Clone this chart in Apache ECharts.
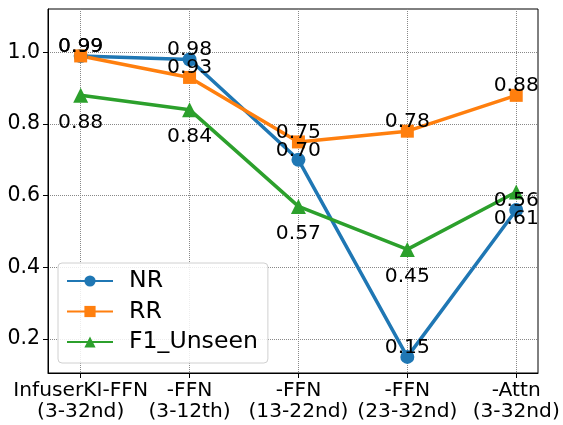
<!DOCTYPE html>
<html>
<head>
<meta charset="utf-8">
<script src="https://cdn.jsdelivr.net/npm/echarts@6/dist/echarts.min.js"></script>
<style>html,body{margin:0;padding:0;background:#fff;}#c{width:563px;height:425px;}</style>
</head>
<body>
<div id="c"></div>
<script>
const categories = ['InfuserKI-FFN\n(3-32nd)', '-FFN\n(3-12th)', '-FFN\n(13-22nd)', '-FFN\n(23-32nd)', '-Attn\n(3-32nd)'];
const nrValues = [0.99, 0.98, 0.70, 0.15, 0.56];
const rrValues = [0.99, 0.93, 0.75, 0.78, 0.88];
const f1Values = [0.88, 0.84, 0.57, 0.45, 0.61];
const yTicks = [0.2, 0.4, 0.6, 0.8, 1.0];
const seriesNames = ['NR', 'RR', 'F1_Unseen'];

const FONT = 'DejaVu Sans';
const toPairs = arr => arr.map((v, i) => [i, v]);

function makeSeries(name, values, color, symbol, size, labelOffset) {
  return {
    name: name,
    type: 'line',
    data: toPairs(values),
    symbol: symbol,
    symbolSize: size,
    lineStyle: { color: color, width: 3.5 },
    itemStyle: { color: color },
    label: {
      show: true,
      position: 'inside',
      offset: labelOffset,
      color: '#000',
      fontFamily: FONT,
      fontSize: 20.3,
      formatter: p => p.value[1].toFixed(2)
    },
    z: 2
  };
}

const chart = echarts.init(document.getElementById('c'), null, { renderer: 'canvas' });
chart.setOption({
  animation: false,
  backgroundColor: '#fff',
  grid: { left: 48, right: 25, top: 9, bottom: 52, show: true, borderColor: '#000', borderWidth: 1, backgroundColor: 'transparent' },
  xAxis: {
    type: 'value',
    min: -0.3,
    max: 4.2,
    axisLine: { show: true, onZero: false, lineStyle: { color: '#000', width: 1 } },
    axisTick: { show: true, length: 5, customValues: categories.map((c, i) => i), lineStyle: { color: '#000' } },
    axisLabel: {
      customValues: categories.map((c, i) => i),
      formatter: v => categories[Math.round(v)] || '',
      hideOverlap: false,
      showMinLabel: true,
      showMaxLabel: true,
      color: '#000', fontFamily: FONT, fontSize: 20.2, lineHeight: 21, margin: 7
    },
    splitLine: { show: true, lineStyle: { color: '#888', type: 'dotted', width: 1 } }
  },
  yAxis: {
    type: 'value',
    min: 0.105,
    max: 1.121,
    axisLine: { show: true, onZero: false, lineStyle: { color: '#000', width: 1 } },
    axisTick: { show: true, length: 5, customValues: yTicks, lineStyle: { color: '#000' } },
    axisLabel: {
      customValues: yTicks,
      formatter: v => v.toFixed(1),
      hideOverlap: false,
      color: '#000', fontFamily: FONT, fontSize: 20.5, margin: 8
    },
    splitLine: { show: true, lineStyle: { color: '#888', type: 'dotted', width: 1 } }
  },
  legend: {
    left: 58,
    top: 263,
    orient: 'vertical',
    data: seriesNames,
    itemWidth: 46,
    itemHeight: 14,
    itemGap: 6.5,
    padding: [6, 10, 9, 8],
    borderColor: '#d0d0d0',
    borderWidth: 1,
    borderRadius: 4,
    backgroundColor: 'rgba(255,255,255,0.85)',
    textStyle: { color: '#000', fontFamily: FONT, fontSize: 23.6, lineHeight: 24, padding: [0, 0, 0, 11] }
  },
  series: [
    makeSeries(seriesNames[0], nrValues, '#1f77b4', 'circle', 14, [0, -9.5]),
    makeSeries(seriesNames[1], rrValues, '#ff7f0e', 'rect', 13, [0, -9.5]),
    makeSeries(seriesNames[2], f1Values, '#2ca02c', 'triangle', 15, [0, 27])
  ]
});
</script>
</body>
</html>
